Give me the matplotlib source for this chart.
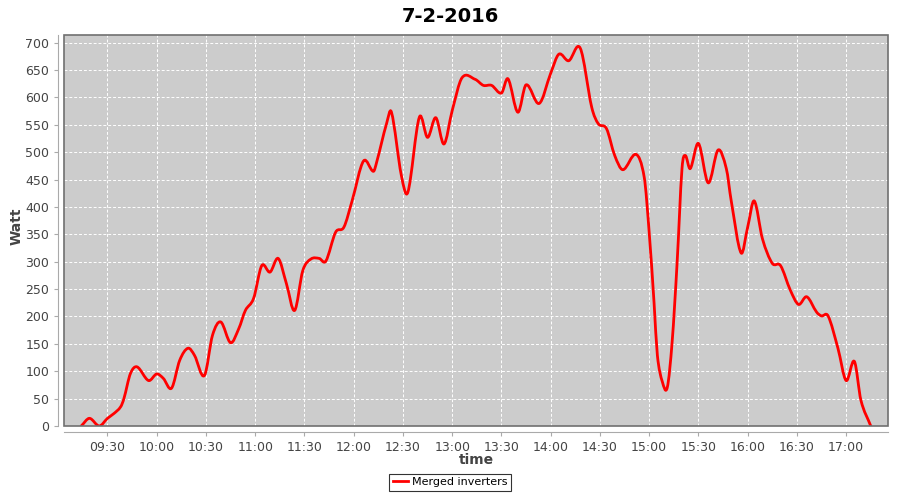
import matplotlib
matplotlib.use("Agg")
import matplotlib.pyplot as plt
import matplotlib.dates as mdates
from matplotlib.patches import Rectangle, PathPatch
from matplotlib.path import Path
from matplotlib.lines import Line2D
import numpy as np
import datetime as dt

# readings: time (HH:MM) and power in Watt
times = ["09:14", "09:19", "09:25", "09:30", "09:34", "09:38", "09:40", "09:44",
         "09:48", "09:55", "10:00", "10:04", "10:09", "10:14", "10:19", "10:23",
         "10:29", "10:34", "10:39", "10:45", "10:50", "10:54", "10:59", "11:04",
         "11:09", "11:14", "11:19", "11:24", "11:29", "11:34", "11:39", "11:43",
         "11:49", "11:54", "11:59", "12:06", "12:12", "12:14", "12:20", "12:23",
         "12:29", "12:33", "12:40", "12:45", "12:50", "12:55", "13:00", "13:06",
         "13:14", "13:19", "13:24", "13:30", "13:34", "13:40", "13:45", "13:53",
         "14:00", "14:05", "14:11", "14:18", "14:25", "14:29", "14:34", "14:39",
         "14:44", "14:52", "14:57", "15:00", "15:03", "15:05", "15:08", "15:11",
         "15:14", "15:17", "15:20", "15:22", "15:25", "15:30", "15:36", "15:42",
         "15:47", "15:50", "15:56", "16:00", "16:04", "16:09", "16:15", "16:20",
         "16:26", "16:31", "16:36", "16:42", "16:45", "16:49", "16:55", "17:00",
         "17:05", "17:09", "17:15"]
watt = [0, 14, 0, 14, 23, 35, 50, 96,
        108, 83, 95, 87, 69, 120, 142, 129,
        92, 166, 190, 152, 178, 211, 233, 293,
        281, 306, 260, 211, 284, 305, 306, 301,
        354, 363, 411, 484, 465, 482, 552, 573,
        458, 427, 564, 527, 563, 515, 576, 636,
        633, 622, 622, 608, 634, 573, 623, 589,
        644, 679, 667, 690, 582, 552, 543, 494,
        468, 496, 454, 354, 224, 129, 81, 70,
        154, 297, 470, 494, 470, 516, 444, 504,
        470, 411, 316, 363, 411, 342, 297, 293,
        248, 222, 236, 208, 201, 201, 142, 83,
        118, 47, 0]

day = dt.date(2016, 2, 7)
x = [dt.datetime.combine(day, dt.datetime.strptime(t, "%H:%M").time()) for t in times]
xn = mdates.date2num(x)
yn = np.array(watt, dtype=float)

fig = plt.figure(figsize=(9, 5), dpi=100)
ax = fig.add_axes([64/900, 1 - 426/500, (888-64)/900, (426-35)/500])
ax.set_facecolor("#cccccc")

# smooth curve through the readings (like a spline renderer): cubic Bezier segments
n = len(xn)
slope = np.empty(n)
slope[1:-1] = (yn[2:] - yn[:-2]) / (xn[2:] - xn[:-2])
slope[0] = (yn[1] - yn[0]) / (xn[1] - xn[0])
slope[-1] = (yn[-1] - yn[-2]) / (xn[-1] - xn[-2])
verts = [(xn[0], yn[0])]
codes = [Path.MOVETO]
for i in range(n - 1):
    d = (xn[i+1] - xn[i]) / 3
    verts += [(xn[i] + d, yn[i] + slope[i]*d),
              (xn[i+1] - d, yn[i+1] - slope[i+1]*d),
              (xn[i+1], yn[i+1])]
    codes += [Path.CURVE4] * 3
ax.add_patch(PathPatch(Path(verts, codes), facecolor="none", edgecolor="#ff0000",
                       lw=2, joinstyle="round", capstyle="round", zorder=3))

ax.set_ylim(0, 714)
ax.set_yticks(np.arange(0, 701, 50))
ax.set_xlim(dt.datetime.combine(day, dt.time(9, 3, 30)),
            dt.datetime.combine(day, dt.time(17, 25, 30)))
ax.xaxis.set_major_locator(mdates.MinuteLocator(byminute=[0, 30]))
ax.xaxis.set_major_formatter(mdates.DateFormatter("%H:%M"))

ax.grid(True, color="white", ls=(0, (3, 2)), lw=0.7)
ax.set_axisbelow(True)

for s in ["top", "right"]:
    ax.spines[s].set_visible(False)
ax.spines["left"].set_position(("outward", 4))
ax.spines["bottom"].set_position(("outward", 4))
ax.spines["left"].set_color("#aaaaaa")
ax.spines["bottom"].set_color("#aaaaaa")
ax.add_patch(Rectangle((0, 0), 1, 1, transform=ax.transAxes, fill=False,
                       edgecolor="#707070", lw=1.2, clip_on=False, zorder=5))

ax.tick_params(colors="#aaaaaa", labelcolor="#444444", labelsize=9, length=3, width=0.8)

ax.set_xlabel("time", fontsize=10, fontweight="bold", color="#444444")
ax.set_ylabel("Watt", fontsize=10, fontweight="bold", color="#444444")
ax.xaxis.set_label_coords(0.5, -0.068)
ax.yaxis.set_label_coords(-0.049, 0.51)
fig.suptitle("7-2-2016", x=0.5, y=0.985, fontsize=14, fontweight="bold")

handle = Line2D([], [], color="#ff0000", lw=2)
leg = fig.legend([handle], ["Merged inverters"], loc="upper center",
                 bbox_to_anchor=(0.5, 1 - 474/500), frameon=True, fancybox=False,
                 fontsize=8, handlelength=1.4, handletextpad=0.3,
                 borderpad=0.3, borderaxespad=0)
leg.get_frame().set_edgecolor("black")
leg.get_frame().set_linewidth(0.8)

fig.savefig("out.png", dpi=100)
